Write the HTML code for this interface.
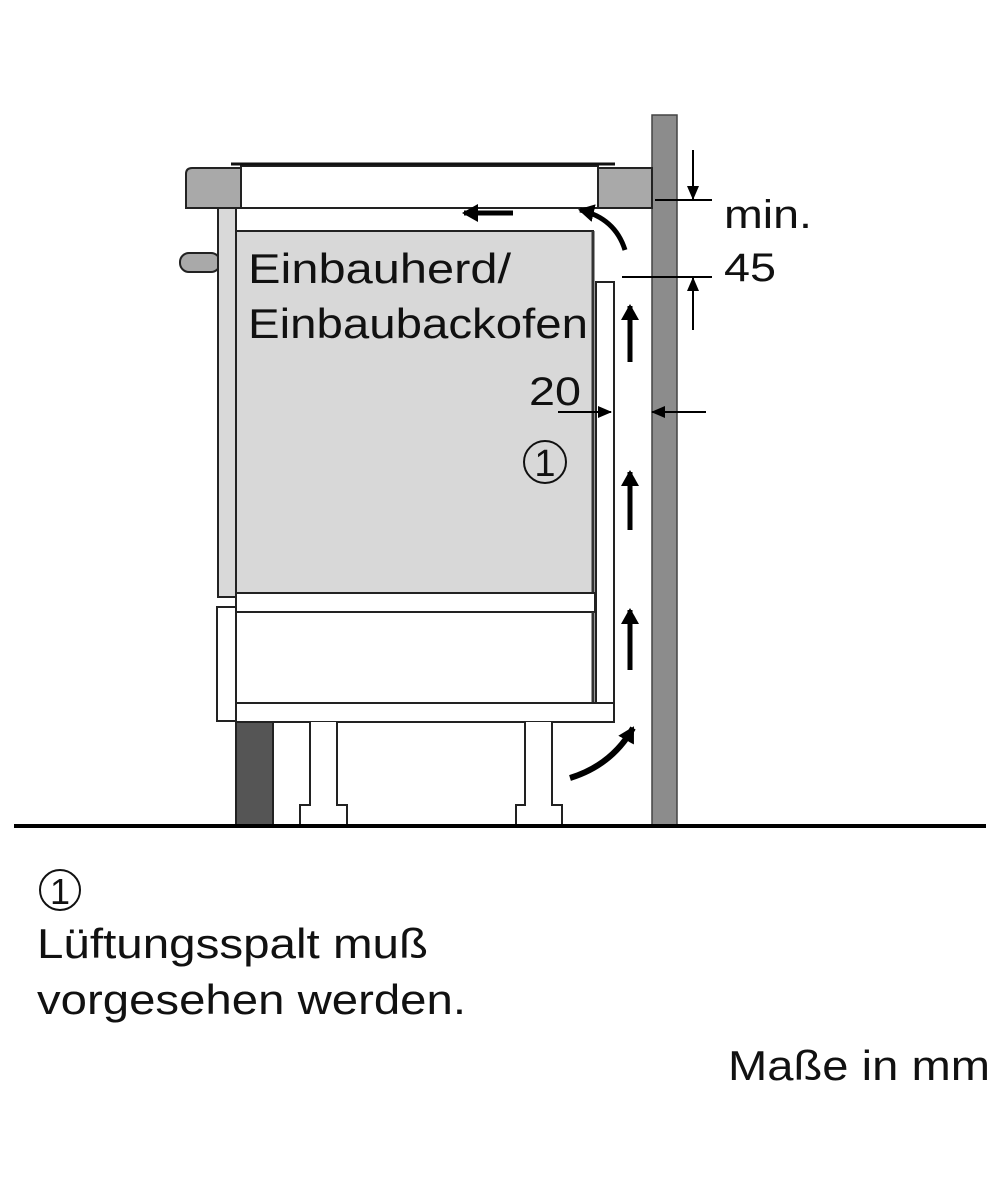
<!DOCTYPE html>
<html><head><meta charset="utf-8"><style>
html,body{margin:0;padding:0;background:#fff}
svg{display:block}
text{font-family:"Liberation Sans",sans-serif;fill:#111}
</style></head><body>
<svg width="1000" height="1200" viewBox="0 0 1000 1200" xmlns="http://www.w3.org/2000/svg">
<defs>
<marker id="ah" markerWidth="14" markerHeight="12" refX="13" refY="6" orient="auto" markerUnits="userSpaceOnUse"><path d="M0,0 L14,6 L0,12 z" fill="#000"/></marker>
<marker id="ab" markerWidth="18" markerHeight="18" refX="14" refY="9" orient="auto" markerUnits="userSpaceOnUse"><path d="M0,0 L16,9 L0,18 z" fill="#000"/></marker>
</defs>
<rect x="652" y="115" width="25" height="710" fill="#8c8c8c" stroke="#444" stroke-width="1.5"/>
<path d="M192,168 H241 V208 H186 V174 Q186,168 192,168 Z" fill="#a9a9a9" stroke="#222" stroke-width="2"/>
<rect x="598" y="168" width="54" height="40" fill="#a9a9a9" stroke="#222" stroke-width="2"/>
<rect x="241" y="166" width="357" height="42" fill="#fff" stroke="#222" stroke-width="2"/>
<line x1="231" y1="164" x2="615" y2="164" stroke="#111" stroke-width="3"/>
<rect x="180" y="253" width="40" height="19" rx="9" fill="#a9a9a9" stroke="#222" stroke-width="2"/>
<rect x="218" y="208" width="18" height="389" fill="#d9d9d9" stroke="#222" stroke-width="2"/>
<rect x="217" y="607" width="19" height="114" fill="#fff" stroke="#222" stroke-width="2"/>
<rect x="236" y="231" width="357" height="362" fill="#d8d8d8" stroke="#222" stroke-width="2"/>
<line x1="593" y1="231" x2="593" y2="593" stroke="#333" stroke-width="3"/>
<rect x="236" y="593" width="359" height="19" fill="#fff" stroke="#222" stroke-width="2"/>
<rect x="236" y="612" width="357" height="91" fill="#fff" stroke="#222" stroke-width="2"/>
<line x1="593" y1="612" x2="593" y2="703" stroke="#333" stroke-width="3"/>
<rect x="596" y="282" width="18" height="421" fill="#fff" stroke="#222" stroke-width="2"/>
<rect x="236" y="703" width="378" height="19" fill="#fff" stroke="#222" stroke-width="2"/>
<rect x="236" y="722" width="37" height="103" fill="#555" stroke="#222" stroke-width="2"/>
<path d="M310,722 V805 H300 V825 H347 V805 H337 V722" fill="#fff" stroke="#222" stroke-width="2"/>
<path d="M525,722 V805 H516 V825 H562 V805 H552 V722" fill="#fff" stroke="#222" stroke-width="2"/>
<line x1="14" y1="826" x2="986" y2="826" stroke="#000" stroke-width="4"/>
<line x1="513" y1="213" x2="464" y2="213" stroke="#000" stroke-width="5" marker-end="url(#ab)"/>
<path d="M625,250 Q615,218 580,210" fill="none" stroke="#000" stroke-width="5" marker-end="url(#ab)"/>
<line x1="630" y1="362" x2="630" y2="306" stroke="#000" stroke-width="5" marker-end="url(#ab)"/>
<line x1="630" y1="530" x2="630" y2="472" stroke="#000" stroke-width="5" marker-end="url(#ab)"/>
<line x1="630" y1="670" x2="630" y2="610" stroke="#000" stroke-width="5" marker-end="url(#ab)"/>
<path d="M570,778 Q612,765 633,728" fill="none" stroke="#000" stroke-width="6" marker-end="url(#ab)"/>
<line x1="655" y1="200" x2="712" y2="200" stroke="#000" stroke-width="2"/>
<line x1="622" y1="277" x2="712" y2="277" stroke="#000" stroke-width="2"/>
<line x1="693" y1="150" x2="693" y2="199" stroke="#000" stroke-width="2" marker-end="url(#ah)"/>
<line x1="693" y1="330" x2="693" y2="278" stroke="#000" stroke-width="2" marker-end="url(#ah)"/>
<line x1="558" y1="412" x2="611" y2="412" stroke="#000" stroke-width="2" marker-end="url(#ah)"/>
<line x1="706" y1="412" x2="652" y2="412" stroke="#000" stroke-width="2" marker-end="url(#ah)"/>
<text x="724" y="228" font-size="40" textLength="88" lengthAdjust="spacingAndGlyphs">min.</text>
<text x="724" y="281" font-size="40" textLength="52" lengthAdjust="spacingAndGlyphs">45</text>
<text x="529" y="405" font-size="40" textLength="52" lengthAdjust="spacingAndGlyphs">20</text>
<circle cx="545" cy="462" r="21" fill="none" stroke="#111" stroke-width="2"/>
<text x="545" y="476" font-size="38" text-anchor="middle">1</text>
<text x="248" y="283" font-size="42" textLength="263" lengthAdjust="spacingAndGlyphs">Einbauherd/</text>
<text x="248" y="338" font-size="42" textLength="340" lengthAdjust="spacingAndGlyphs">Einbaubackofen</text>
<circle cx="60" cy="890" r="20" fill="none" stroke="#111" stroke-width="2"/>
<text x="60" y="904" font-size="36" text-anchor="middle">1</text>
<text x="37" y="958" font-size="42" textLength="391" lengthAdjust="spacingAndGlyphs">Lüftungsspalt muß</text>
<text x="37" y="1014" font-size="42" textLength="429" lengthAdjust="spacingAndGlyphs">vorgesehen werden.</text>
<text x="728" y="1080" font-size="42" textLength="262" lengthAdjust="spacingAndGlyphs">Maße in mm</text>
</svg>
</body></html>
